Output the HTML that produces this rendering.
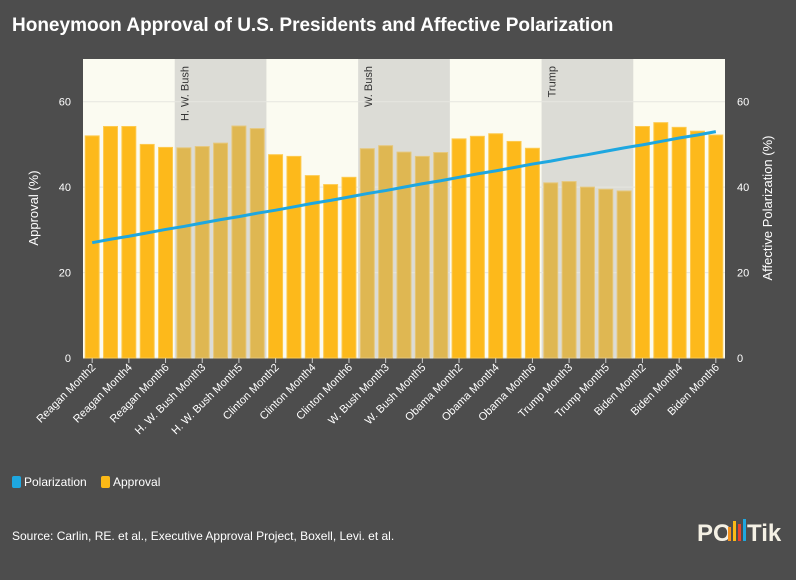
<!DOCTYPE html>
<html><head><meta charset="utf-8"><style>
body{margin:0;background:#4d4d4d;width:796px;height:575px;overflow:hidden;font-family:"Liberation Sans",sans-serif}
</style></head><body>
<svg width="796" height="575" xmlns="http://www.w3.org/2000/svg">
<rect width="796" height="575" fill="#4d4d4d"/>
<text x="12" y="31" fill="#fff" font-size="19" font-weight="bold">Honeymoon Approval of U.S. Presidents and Affective Polarization</text>
<rect x="83" y="59" width="642" height="299" fill="#fbfbf1"/>
<g id="shades"></g><g id="grid"></g><g id="bars"></g><g id="line"></g><g id="axes"></g>
<text transform="translate(38,208) rotate(-90)" text-anchor="middle" fill="#fff" font-size="13">Approval (%)</text>
<text transform="translate(772,208) rotate(-90)" text-anchor="middle" fill="#fff" font-size="13">Affective Polarization (%)</text>
<g><rect x="12" y="476" width="9" height="12" rx="2" fill="#1ea7e0"/><text x="24" y="486" fill="#fff" font-size="12">Polarization</text></g>
<g><rect x="101" y="476" width="9" height="12" rx="2" fill="#fbb917"/><text x="113" y="486" fill="#fff" font-size="12">Approval</text></g>
<text x="12" y="540" fill="#fff" font-size="12">Source: Carlin, RE. et al., Executive Approval Project, Boxell, Levi. et al.</text>
<g>
<text x="697" y="541" fill="#f4f0e4" font-size="24" font-weight="bold">PO</text>
<rect x="728" y="527" width="3" height="14" fill="#f7931e"/><rect x="733" y="521" width="3" height="20" fill="#fbb917"/><rect x="738" y="524" width="3" height="17" fill="#e8412c"/><rect x="743" y="519" width="3" height="22" fill="#1ea7e0"/>
<text x="747" y="541" fill="#f4f0e4" font-size="24" font-weight="bold">Tik</text></g>
</svg>
<script>
const categories=[];
const presidents=["Reagan","H. W. Bush","Clinton","W. Bush","Obama","Trump","Biden"];
const months=[2,3,4,5,6];
const approval=[52,54.2,54.2,50,49.3, 49.2,49.5,50.3,54.3,53.7, 47.6,47.2,42.7,40.6,42.3, 49,49.7,48.2,47.2,48.1, 51.3,51.9,52.5,50.7,49.1, 41,41.3,40,39.5,39.1, 54.2,55.1,54,53.1,52.2];
const polarization=[27,27.8,28.5,29.3,30.1, 30.8,31.6,32.4,33.1,33.9, 34.6,35.4,36.2,36.9,37.7, 38.5,39.2,40,40.8,41.5, 42.3,43.1,43.8,44.6,45.4, 46.1,46.9,47.6,48.4,49.2, 49.9,50.7,51.5,52.2,53];
const yTicks=[0,20,40,60];
presidents.forEach(p=>months.forEach(m=>categories.push(p+" Month"+m)));
const NS="http://www.w3.org/2000/svg",X0=83,W=642,Y0=358,Ymax=70,H=299;
const step=W/categories.length;
const x=i=>X0+step*(i+0.5);
const y=v=>Y0-v/Ymax*H;
function mk(t,a,p){const e=document.createElementNS(NS,t);for(const k in a)e.setAttribute(k,a[k]);document.getElementById(p).appendChild(e);return e;}
[1,3,5].forEach(pi=>{
 const r=mk("rect",{x:X0+pi*5*step,y:59,width:5*step,height:299,fill:"#dcdcd6"},"shades");
 
 
 const t=mk("text",{transform:`translate(${X0+pi*5*step+14},66) rotate(-90)`,"text-anchor":"end",fill:"#333","font-size":"11"},"shades");
 t.textContent=presidents[pi];
 
 
});
yTicks.forEach(v=>{
 const g=mk("line",{x1:X0,x2:X0+W,y1:y(v),y2:y(v),stroke:"#e6e6e0","stroke-width":1},"grid");
 
 
 const l=mk("text",{x:X0-12,y:y(v)+4,"text-anchor":"end",fill:"#fff","font-size":"11"},"axes");l.textContent=v;
 
 
 const r=mk("text",{x:X0+W+12,y:y(v)+4,fill:"#fff","font-size":"11"},"axes");r.textContent=v;
 
 
});
approval.forEach((v,i)=>{
 const shaded=[1,3,5].includes(Math.floor(i/5));
 const b=mk("rect",{x:x(i)-step*0.38,y:y(v),width:step*0.76,height:Y0-y(v),fill:shaded?"#dfb752":"#fdb91b",stroke:shaded?"#e6c77a":"#fdca4f","stroke-width":1},"bars");
 
 
});
const pl=mk("polyline",{points:polarization.map((v,i)=>x(i)+","+y(v)).join(" "),fill:"none",stroke:"#1ea7e0","stroke-width":3},"line");


categories.forEach((c,i)=>{
 if(i%2)return;
 const t=mk("line",{x1:x(i),x2:x(i),y1:Y0,y2:Y0+5,stroke:"#ccc"},"axes");
 
 
 const l=mk("text",{transform:`translate(${x(i)+4},${Y0+10}) rotate(-45)`,"text-anchor":"end",fill:"#fff","font-size":"11"},"axes");
 l.textContent=c;
 
 
});
</script>
</body></html>
